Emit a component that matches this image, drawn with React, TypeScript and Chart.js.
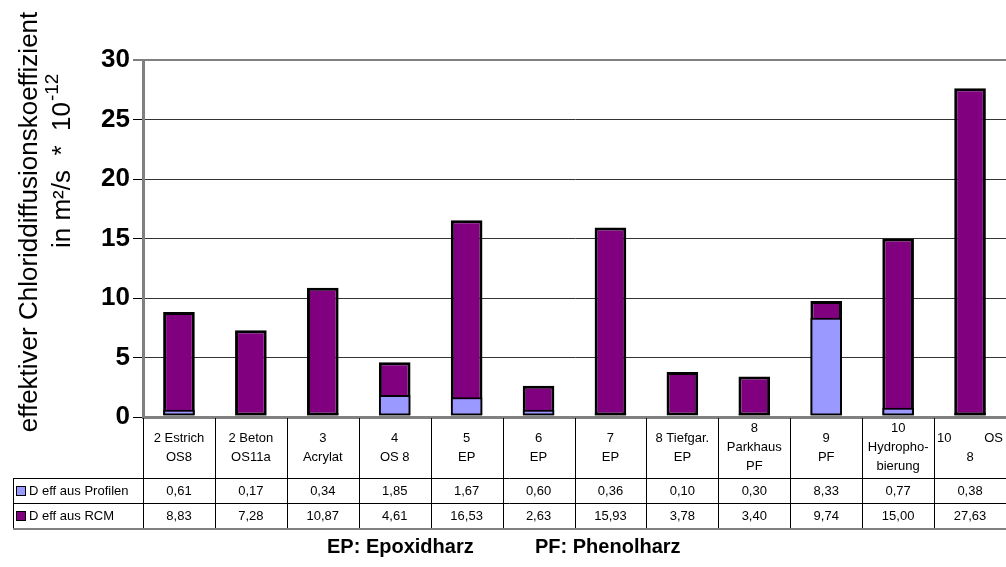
import React, { useEffect, useRef } from 'react';
import { Chart, registerables } from 'chart.js';
Chart.register(...registerables);

const categories: string[][] = [
  ['2 Estrich', 'OS8'],
  ['2 Beton', 'OS11a'],
  ['3', 'Acrylat'],
  ['4', 'OS 8'],
  ['5', 'EP'],
  ['6', 'EP'],
  ['7', 'EP'],
  ['8 Tiefgar.', 'EP'],
  ['8', 'Parkhaus', 'PF'],
  ['9', 'PF'],
  ['10', 'Hydropho-', 'bierung'],
  ['10\tOS', '8'],
];
const seriesNames = ['D eff aus Profilen', 'D eff aus RCM'];
const profilen = [0.61, 0.17, 0.34, 1.85, 1.67, 0.6, 0.36, 0.1, 0.3, 8.33, 0.77, 0.38];
const rcm = [8.83, 7.28, 10.87, 4.61, 16.53, 2.63, 15.93, 3.78, 3.4, 9.74, 15.0, 27.63];
const yMax = 30;
const yStep = 5;
const yTitle1 = 'effektiver Chloriddiffusionskoeffizient';
const yTitle2 = 'in m²/s  *  10';
const yTitleSup = '-12';
const footnotes = ['EP: Epoxidharz', 'PF: Phenolharz'];
const colors = ['#9999FF', '#800080'];

const FONT = "'Liberation Sans', Arial, sans-serif";
const fmt = (v: number) => v.toFixed(2).replace('.', ',');

const tablePlugin = {
  id: 'tableAndTitles',
  afterDraw(chart: any) {
    const { ctx, chartArea } = chart;
    const n = categories.length;
    const left = chartArea.left;
    const right = chartArea.right;
    const w = (right - left) / n;
    const top = chartArea.bottom;
    const r1 = top + 61;
    const r2 = r1 + 25;
    const r3 = r2 + 25;
    const line = (x1: number, y1: number, x2: number, y2: number) => {
      ctx.beginPath();
      ctx.moveTo(x1, y1);
      ctx.lineTo(x2, y2);
      ctx.stroke();
    };
    ctx.save();
    ctx.strokeStyle = '#000';
    ctx.lineWidth = 1;
    for (let i = 0; i <= n; i++) {
      const xx = Math.round(left + i * w) + 0.5;
      line(xx, top + 1, xx, r3);
    }
    line(13, r1 + 0.5, right, r1 + 0.5);
    line(13, r2 + 0.5, right, r2 + 0.5);
    line(13.5, r1, 13.5, r3);
    ctx.strokeStyle = '#808080';
    ctx.lineWidth = 2;
    line(13, r3 + 1, right, r3 + 1);

    // header labels
    ctx.fillStyle = '#000';
    ctx.font = `13px ${FONT}`;
    ctx.textBaseline = 'middle';
    const mid = (top + r1) / 2;
    categories.forEach((lines, i) => {
      const cx = left + (i + 0.5) * w;
      const cl = left + i * w;
      const start = mid - ((lines.length - 1) * 19) / 2;
      lines.forEach((t, j) => {
        const y = start + j * 19;
        if (t.includes('\t')) {
          const [a, b] = t.split('\t');
          ctx.textAlign = 'left';
          ctx.fillText(a, cl + 3, y);
          ctx.textAlign = 'right';
          ctx.fillText(b, cl + w - 3, y);
        } else {
          ctx.textAlign = 'center';
          ctx.fillText(t, cx, y);
        }
      });
    });
    // data rows
    [profilen, rcm].forEach((arr, k) => {
      const y = (k === 0 ? (r1 + r2) / 2 : (r2 + r3) / 2) + 1;
      ctx.textAlign = 'center';
      arr.forEach((v, i) => {
        ctx.fillText(fmt(v), left + (i + 0.5) * w, y);
      });
      ctx.fillStyle = colors[k];
      ctx.fillRect(16.5, y - 5, 9, 9);
      ctx.strokeStyle = '#000';
      ctx.lineWidth = 1;
      ctx.strokeRect(16.5, y - 5, 9, 9);
      ctx.fillStyle = '#000';
      ctx.textAlign = 'left';
      ctx.fillText(seriesNames[k], 29, y);
    });

    // y title
    ctx.font = `26px ${FONT}`;
    ctx.save();
    ctx.translate(30, 222);
    ctx.rotate(-Math.PI / 2);
    ctx.textAlign = 'center';
    ctx.fillText(yTitle1, 0, 0);
    ctx.restore();
    ctx.save();
    ctx.translate(63, 248);
    ctx.rotate(-Math.PI / 2);
    ctx.textAlign = 'left';
    ctx.fillText(yTitle2, 0, 0);
    const tw = ctx.measureText(yTitle2).width;
    ctx.font = `19px ${FONT}`;
    ctx.fillText(yTitleSup, tw + 1, -10);
    ctx.restore();

    // footnotes
    ctx.font = `bold 20px ${FONT}`;
    ctx.textAlign = 'left';
    ctx.fillText(footnotes[0], 327, 547);
    ctx.fillText(footnotes[1], 535, 547);
    ctx.restore();
  },
};

export default function App() {
  const ref = useRef<HTMLCanvasElement>(null);
  useEffect(() => {
    if (!ref.current) return;
    const chart = new Chart(ref.current, {
      type: 'bar',
      data: {
        labels: categories.map((c) => c.join(' ').replace('\t', ' ')),
        datasets: [
          {
            label: seriesNames[0],
            data: profilen,
            backgroundColor: colors[0],
            borderColor: '#000',
            borderWidth: 2,
            borderSkipped: false,
          },
          {
            label: seriesNames[1],
            data: rcm,
            backgroundColor: colors[1],
            borderColor: '#000',
            borderWidth: 3,
            borderSkipped: false,
          },
        ],
      },
      options: {
        animation: false,
        responsive: true,
        maintainAspectRatio: false,
        layout: { padding: { top: 60, bottom: 150, left: 0, right: 0 } },
        plugins: { legend: { display: false }, tooltip: { enabled: false } },
        datasets: { bar: { categoryPercentage: 1, barPercentage: 0.44 } } as any,
        scales: {
          x: { stacked: true, display: false },
          y: {
            stacked: false,
            min: 0,
            max: yMax,
            afterFit: (s: any) => {
              s.width = 143;
            },
            ticks: {
              stepSize: yStep,
              padding: 3,
              color: '#000',
              font: { family: FONT, size: 26, weight: 'bold' },
            },
            grid: {
              color: (c: any) => (c.tick && (c.tick.value === 0 || c.tick.value === yMax) ? '#808080' : '#333'),
              lineWidth: (c: any) => (c.tick && c.tick.value === 0 ? 3 : c.tick && c.tick.value === yMax ? 2 : 1),
              tickColor: '#000',
              tickWidth: 1,
              tickLength: 10,
            },
            border: { color: '#808080', width: 3 },
          },
        },
      },
      plugins: [tablePlugin],
    });
    return () => chart.destroy();
  }, []);
  return (
    <div style={{ position: 'absolute', left: 0, top: 0, width: 1006, height: 567, background: '#fff' }}>
      <canvas ref={ref} />
    </div>
  );
}
